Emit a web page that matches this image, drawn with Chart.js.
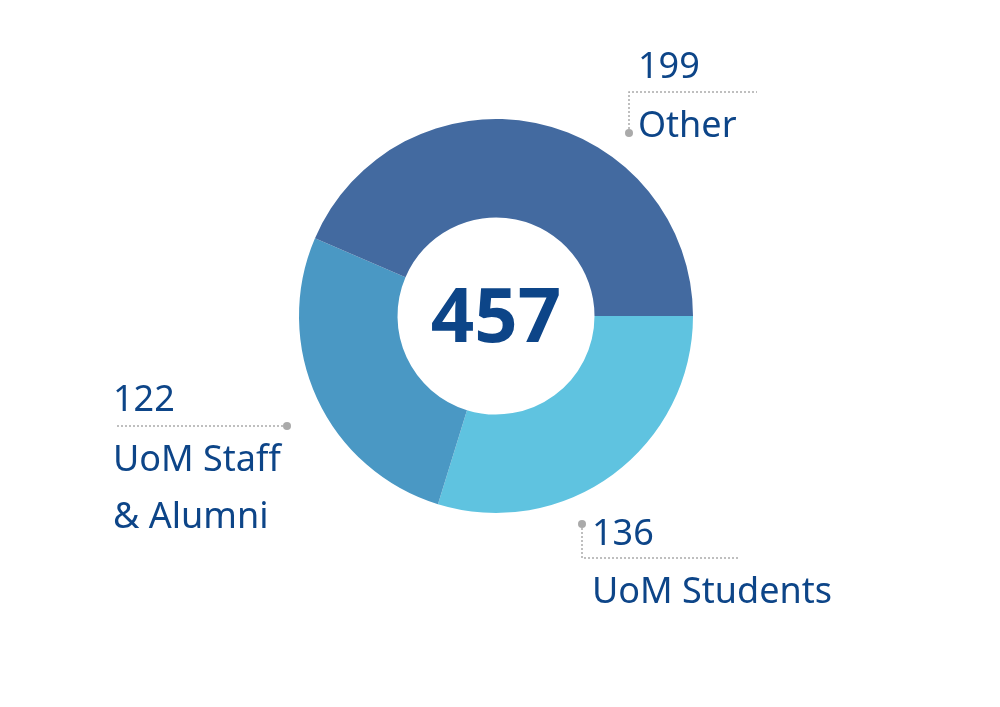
<!DOCTYPE html>
<html>
<head>
<meta charset="utf-8">
<script src="https://cdn.jsdelivr.net/npm/chart.js@4"></script>
<style>
  html, body { margin: 0; padding: 0; background: #fff; }
  #wrap { width: 1000px; height: 707px; position: relative; }
</style>
</head>
<body>
<div id="wrap"><canvas id="donut"></canvas></div>
<script>
// ---- data ----
const categories = ['UoM Students', 'UoM Staff & Alumni', 'Other'];
const values = [136, 122, 199];
const colours = ['#5fc3e0', '#4a98c4', '#436aa0'];

const textColour = '#0d4588';
const FONT = '"Noto Sans", sans-serif';

// label placement relative to the doughnut centre (dx, dy of the dot, lines)
const labelLayout = [
  { // UoM Students
    dot: [86, 208], bend: [86, 242], end: [244, 242],
    value: { x: 96, y: 229 }, lines: ['UoM Students'], lineY: [287]
  },
  { // Staff & Alumni
    dot: [-209, 110], bend: [-209, 110], end: [-381, 110],
    value: { x: -383, y: 95 }, lines: ['UoM Staff', '& Alumni'], lineY: [155, 212]
  },
  { // Other
    dot: [133, -183], bend: [133, -224], end: [261, -224],
    value: { x: 142, y: -238 }, lines: ['Other'], lineY: [-179]
  }
];

const labelPlugin = {
  id: 'leaderLabels',
  afterDraw(chart) {
    const ctx = chart.ctx;
    const arc = chart.getDatasetMeta(0).data[0];
    const cx = arc.x, cy = arc.y;
    ctx.save();
    labelLayout.forEach((l, i) => {
      // dotted leader
      ctx.strokeStyle = '#aaaaaa';
      ctx.lineWidth = 1.5;
      ctx.setLineDash([2, 2]);
      ctx.beginPath();
      ctx.moveTo(cx + l.dot[0], cy + l.dot[1]);
      ctx.lineTo(cx + l.bend[0], cy + l.bend[1]);
      ctx.lineTo(cx + l.end[0], cy + l.end[1]);
      ctx.stroke();
      ctx.setLineDash([]);
      ctx.fillStyle = '#aaaaaa';
      ctx.beginPath();
      ctx.arc(cx + l.dot[0], cy + l.dot[1], 4, 0, Math.PI * 2);
      ctx.fill();
      // texts
      ctx.fillStyle = textColour;
      ctx.textAlign = 'left';
      ctx.textBaseline = 'alphabetic';
      ctx.font = '36px ' + FONT;
      ctx.fillText(String(values[i]), cx + l.value.x, cy + l.value.y);
      l.lines.forEach((t, j) => ctx.fillText(t, cx + l.value.x, cy + l.lineY[j]));
    });
    // centre total
    const total = values.reduce((a, b) => a + b, 0);
    ctx.font = 'bold 76px ' + FONT;
    ctx.textAlign = 'center';
    ctx.textBaseline = 'middle';
    ctx.fillText(String(total), cx, cy + 4);
    ctx.restore();
  }
};

new Chart(document.getElementById('donut'), {
  type: 'doughnut',
  data: {
    labels: categories,
    datasets: [{ data: values, backgroundColor: colours, borderWidth: 0 }]
  },
  options: {
    responsive: true,
    maintainAspectRatio: false,
    animation: false,
    rotation: 90,
    cutout: '50%',
    layout: { padding: { left: 0, right: 8, top: 119, bottom: 194 } },
    plugins: { legend: { display: false }, tooltip: { enabled: false } }
  },
  plugins: [labelPlugin]
});
</script>
</body>
</html>
